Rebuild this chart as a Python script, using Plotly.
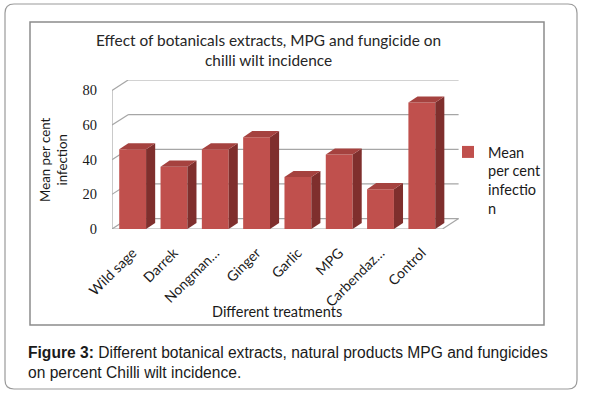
import plotly.graph_objects as go

# ---- data ----
categories = ["Wild sage", "Darrek", "Nongman…", "Ginger", "Garlic", "MPG", "Carbendaz…", "Control"]
mean_infection = [46, 36, 46, 53, 30, 43, 23, 73]
y_ticks = [0, 20, 40, 60, 80]
series_name = "Mean<br>per cent<br>infectio<br>n"

W, H = 590, 394
PL, PR, PT, PB = 112, 459, 80, 229   # plot area in page pixels
ML, MR, MT, MB = PL, W - PR, PT, H - PB
X0, X1 = -0.5, 7.9
Y0, Y1 = 0, 86

FRONT = "#C0504D"
SIDE = "#7F2F2D"
TOP = "#A5423F"
GRID = "#A6A6A6"

xs = list(range(len(categories)))
bw = 0.65
bdx, bdy = 0.22, 3.5    # bar depth
wdx, wdy = 0.39, 6.0    # wall depth

fig = go.Figure()
fig.add_trace(go.Bar(
    x=xs, y=mean_infection, width=bw, name=series_name,
    marker=dict(color=FRONT, line=dict(width=0)),
    showlegend=True,
))

shapes = []
for v in y_ticks:
    shapes.append(dict(type="line", xref="x", yref="y", x0=X0 + wdx, x1=7.5 + wdx,
                       y0=v + wdy, y1=v + wdy, line=dict(color=GRID, width=1.2), layer="below"))
    shapes.append(dict(type="line", xref="x", yref="y", x0=X0, x1=X0 + wdx,
                       y0=v, y1=v + wdy, line=dict(color=GRID, width=1.2), layer="below"))
shapes.append(dict(type="line", xref="x", yref="y", x0=X0, x1=X0, y0=0, y1=y_ticks[-1],
                   line=dict(color=GRID, width=1.2), layer="below"))
shapes.append(dict(type="line", xref="x", yref="y", x0=X0, x1=7.5, y0=0, y1=0,
                   line=dict(color=GRID, width=1.2), layer="below"))
shapes.append(dict(type="line", xref="x", yref="y", x0=7.5, x1=7.5 + wdx, y0=0, y1=wdy,
                   line=dict(color=GRID, width=1.2), layer="below"))

for x, v in zip(xs, mean_infection):
    xr = x + bw / 2
    xl = x - bw / 2
    side = f"M {xr} 0 L {xr + bdx} {bdy} L {xr + bdx} {v + bdy} L {xr} {v} Z"
    top = f"M {xl} {v} L {xl + bdx} {v + bdy} L {xr + bdx} {v + bdy} L {xr} {v} Z"
    shapes.append(dict(type="path", xref="x", yref="y", path=side,
                       fillcolor=SIDE, line=dict(width=0), layer="above"))
    shapes.append(dict(type="path", xref="x", yref="y", path=top,
                       fillcolor=TOP, line=dict(width=0), layer="above"))

PW = W - ML - MR
PH = H - MT - MB
def px(xp):   # page px -> paper
    return round((xp - ML) / PW, 5)
def py(yp):
    return round((H - MB - yp) / PH, 5)

shapes.append(dict(type="rect", xref="paper", yref="paper",
                   x0=px(30), x1=px(544), y0=py(325), y1=py(22),
                   line=dict(color="#8C8C8C", width=1.5), fillcolor="rgba(0,0,0,0)", layer="below"))
r = 9
L_, R_, T_, B_ = 5, 577, 4, 389
pth = (f"M {px(L_ + r)},{py(T_)} L {px(R_ - r)},{py(T_)} Q {px(R_)},{py(T_)} {px(R_)},{py(T_ + r)} "
       f"L {px(R_)},{py(B_ - r)} Q {px(R_)},{py(B_)} {px(R_ - r)},{py(B_)} "
       f"L {px(L_ + r)},{py(B_)} Q {px(L_)},{py(B_)} {px(L_)},{py(B_ - r)} "
       f"L {px(L_)},{py(T_ + r)} Q {px(L_)},{py(T_)} {px(L_ + r)},{py(T_)} Z")
shapes.append(dict(type="path", xref="paper", yref="paper", path=pth,
                   line=dict(color="#9A9A9A", width=1.2), fillcolor="rgba(0,0,0,0)", layer="below"))

CAL = "Lato, 'Open Sans', sans-serif"
annotations = [
    dict(text="Effect of botanicals extracts, MPG and fungicide on<br>chilli wilt incidence",
         xref="paper", yref="paper", x=px(268), y=py(50), xanchor="center", yanchor="middle",
         showarrow=False, font=dict(family=CAL, size=15.4, color="#262626"), align="center"),
    dict(text="Mean per cent<br>infection", xref="paper", yref="paper", x=px(54), y=py(159),
         xanchor="center", yanchor="middle", textangle=-90, showarrow=False,
         font=dict(family=CAL, size=13.3, color="#1a1a1a"), align="center"),
    dict(text="Different treatments", xref="paper", yref="paper", x=px(277), y=py(311),
         xanchor="center", yanchor="middle", showarrow=False,
         font=dict(family=CAL, size=14.5, color="#1a1a1a")),
    dict(text="<b>Figure 3:</b> Different botanical extracts, natural products MPG and fungicides<br>on percent Chilli wilt incidence.",
         xref="paper", yref="paper", x=px(26), y=py(362), xanchor="left", yanchor="middle",
         showarrow=False, align="left",
         font=dict(family="'Liberation Sans', Arial, sans-serif", size=15.6, color="#1a1a1a")),
]

fig.update_layout(
    width=W, height=H,
    margin=dict(l=ML, r=MR, t=MT, b=MB, pad=0, autoexpand=False),
    paper_bgcolor="white", plot_bgcolor="rgba(0,0,0,0)",
    shapes=shapes, annotations=annotations,
    legend=dict(xref="container", yref="container", x=448 / W, y=1 - 136 / H,
                xanchor="left", yanchor="top", valign="top",
                font=dict(family=CAL, size=14.5, color="#1a1a1a"),
                itemwidth=30, bgcolor="rgba(0,0,0,0)"),
    xaxis=dict(range=[X0, X1], tickmode="array", tickvals=xs, ticktext=categories,
               tickangle=-45, showgrid=False, zeroline=False, showline=False,
               ticks="", ticklabelstandoff=12, automargin=False,
               tickfont=dict(family=CAL, size=14, color="#1a1a1a")),
    yaxis=dict(range=[Y0, Y1], tickmode="array", tickvals=y_ticks,
               showgrid=False, zeroline=False, showline=False, ticks="",
               ticklabelstandoff=14, automargin=False,
               tickfont=dict(family="'Liberation Serif', serif", size=14.5, color="#1a1a1a")),
)

fig.write_html("out.html", config={"displayModeBar": False},
               post_script="document.body.style.margin='0px';document.body.style.overflow='hidden';")
